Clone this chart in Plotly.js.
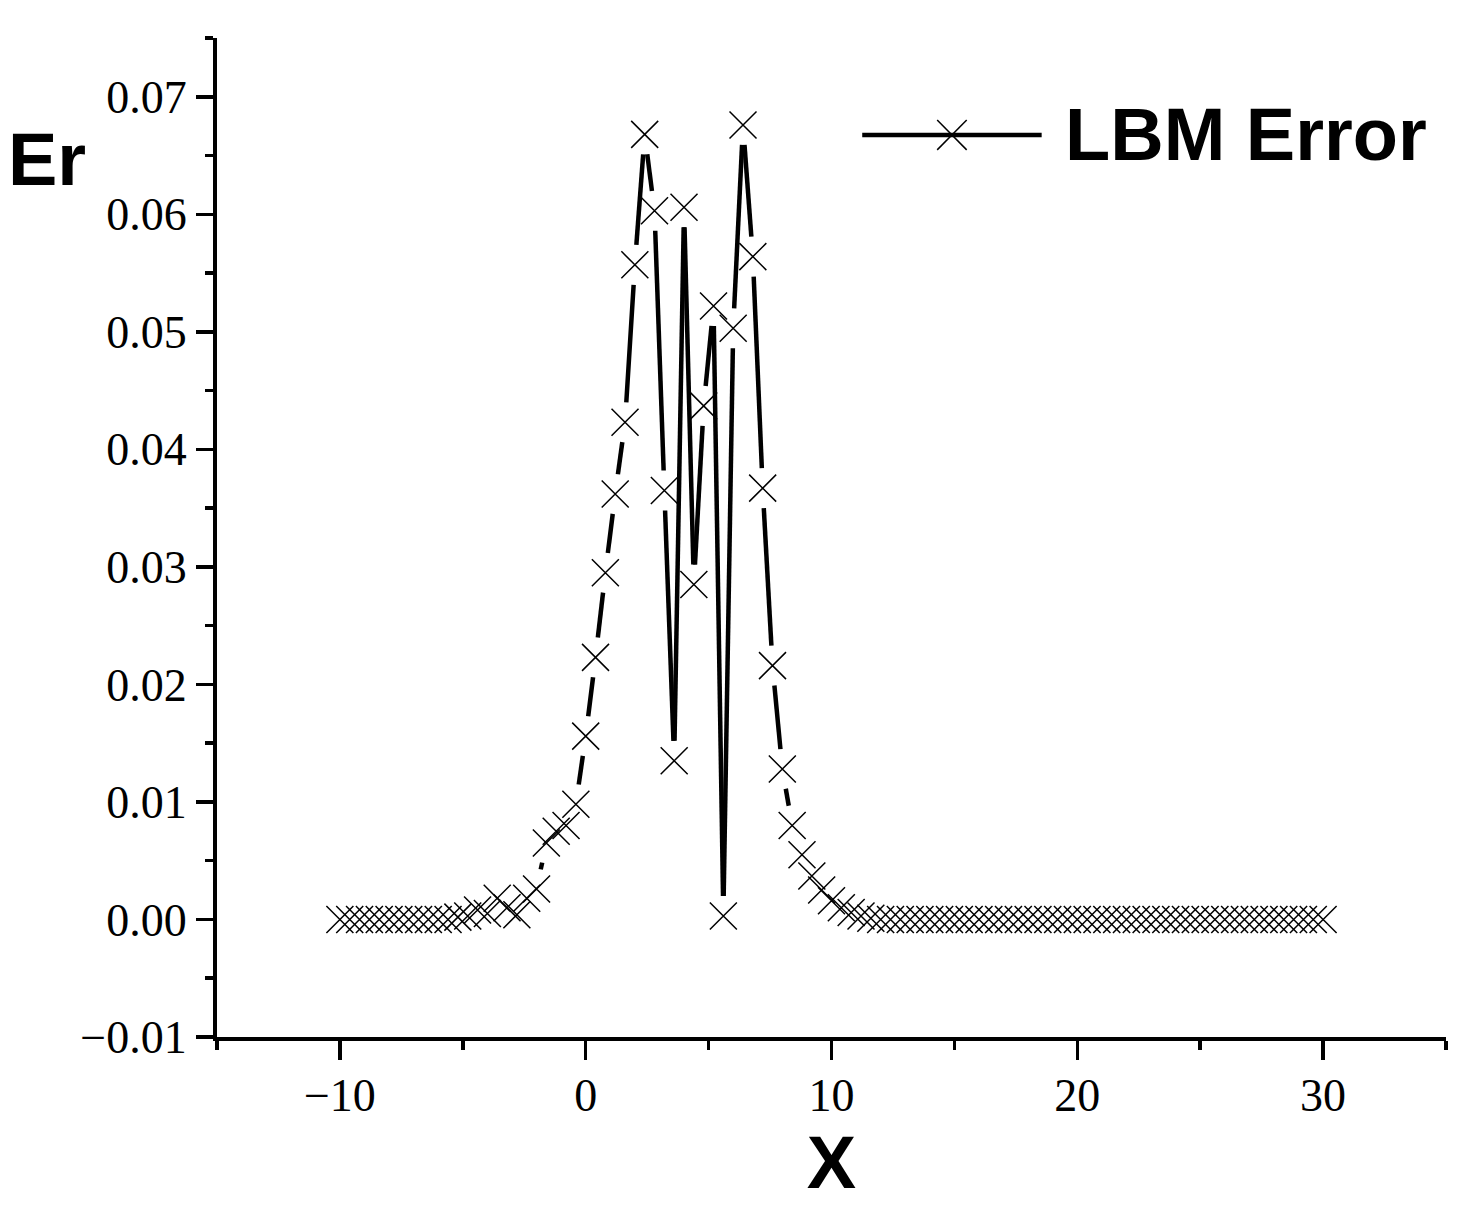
<!DOCTYPE html>
<html>
<head>
<meta charset="utf-8">
<script src="https://cdn.plot.ly/plotly-3.0.1.min.js"></script>
<style>
  body { margin: 0; background: #fff; }
  #plot { width: 1476px; height: 1218px; }
</style>
</head>
<body>
<div id="plot"></div>
<script>
// x positions of the LBM samples
var xPos = [
  -10, -9.6, -9.2, -8.8, -8.4, -8, -7.6, -7.2, -6.8, -6.4,
  -6, -5.6, -5.2, -4.8, -4.4, -4, -3.6, -3.2, -2.8, -2.4,
  -2, -1.6, -1.2, -0.8, -0.4, 0, 0.4, 0.8, 1.2, 1.6,
  2, 2.4, 2.8, 3.2, 3.6, 4, 4.4, 4.8, 5.2, 5.6,
  6, 6.4, 6.8, 7.2, 7.6, 8, 8.4, 8.8, 9.2, 9.6,
  10, 10.4, 10.8, 11.2, 11.6, 12, 12.4, 12.8, 13.2, 13.6,
  14, 14.4, 14.8, 15.2, 15.6, 16, 16.4, 16.8, 17.2, 17.6,
  18, 18.4, 18.8, 19.2, 19.6, 20, 20.4, 20.8, 21.2, 21.6,
  22, 22.4, 22.8, 23.2, 23.6, 24, 24.4, 24.8, 25.2, 25.6,
  26, 26.4, 26.8, 27.2, 27.6, 28, 28.4, 28.8, 29.2, 29.6,
  30
];

// LBM error
var lbmError = [
  0, 0, 0, 0, 0, 0, 0, 0, 0, 0,
  0, 0, 0.0002, 0.0003, 0.0008, 0.0005, 0.0018, 0.0010, 0.0004, 0.0018,
  0.0026, 0.0065, 0.0075, 0.0080, 0.0098, 0.0156, 0.0223, 0.0295, 0.0362, 0.0423,
  0.0557, 0.0668, 0.0603, 0.0365, 0.0135, 0.0606, 0.0285, 0.0437, 0.0522, 0.0003,
  0.0503, 0.0676, 0.0564, 0.0367, 0.0216, 0.0128, 0.0080, 0.0055, 0.0037, 0.0025,
  0.0016, 0.0010, 0.0006, 0.0003, 0.0001, 0, 0, 0, 0, 0,
  0, 0, 0, 0, 0, 0, 0, 0, 0, 0,
  0, 0, 0, 0, 0, 0, 0, 0, 0, 0,
  0, 0, 0, 0, 0, 0, 0, 0, 0, 0,
  0, 0, 0, 0, 0, 0, 0, 0, 0, 0,
  0
];

var xTicks = [-10, 0, 10, 20, 30];
var yTicks = [-0.01, 0, 0.01, 0.02, 0.03, 0.04, 0.05, 0.06, 0.07];
var yTickText = ["\u22120.01", "0.00", "0.01", "0.02", "0.03", "0.04", "0.05", "0.06", "0.07"];

var xRange = [-15, 35];
var yRange = [-0.01, 0.075];

// plot box size in px, used to leave a gap between line and symbol like Origin
var boxW = 1229, boxH = 999, gap = 20;
var pxX = boxW / (xRange[1] - xRange[0]);
var pxY = boxH / (yRange[1] - yRange[0]);

var segX = [], segY = [];
for (var i = 0; i < xPos.length - 1; i++) {
  var dx = (xPos[i + 1] - xPos[i]) * pxX;
  var dy = (lbmError[i + 1] - lbmError[i]) * pxY;
  var L = Math.sqrt(dx * dx + dy * dy);
  if (L <= 2 * gap) continue;
  var t0 = gap / L, t1 = 1 - gap / L;
  segX.push(xPos[i] + (xPos[i + 1] - xPos[i]) * t0, xPos[i] + (xPos[i + 1] - xPos[i]) * t1, null);
  segY.push(lbmError[i] + (lbmError[i + 1] - lbmError[i]) * t0, lbmError[i] + (lbmError[i + 1] - lbmError[i]) * t1, null);
}

var lineTrace = {
  x: segX,
  y: segY,
  mode: "lines",
  type: "scatter",
  name: "LBM Error",
  showlegend: false,
  line: { color: "#000", width: 4.5 },
  connectgaps: false,
  hoverinfo: "skip"
};

var markTrace = {
  x: xPos,
  y: lbmError,
  mode: "markers",
  type: "scatter",
  name: "LBM Error",
  showlegend: false,
  marker: {
    symbol: "x-thin-open",
    size: 27,
    color: "#000",
    line: { color: "#000", width: 1.5 }
  }
};

var serif = "Liberation Serif, Times New Roman, serif";
var sans = "Liberation Sans, Arial, sans-serif";

var layout = {
  width: 1476,
  height: 1218,
  margin: { l: 217, r: 30, t: 38, b: 181 },
  paper_bgcolor: "#fff",
  plot_bgcolor: "#fff",
  showlegend: false,
  xaxis: {
    range: xRange,
    tickvals: xTicks,
    ticktext: xTicks.map(function (v) { return v < 0 ? "\u2212" + Math.abs(v) : String(v); }),
    ticks: "outside",
    ticklen: 19,
    tickwidth: 3.5,
    tickcolor: "#000",
    ticklabelstandoff: -4,
    minor: { tick0: -15, dtick: 10, ticks: "outside", ticklen: 9, tickwidth: 3.5, tickcolor: "#000" },
    showline: true,
    linewidth: 4,
    linecolor: "#000",
    showgrid: false,
    zeroline: false,
    tickfont: { family: serif, size: 46, color: "#000" },
    title: { text: "X", font: { family: sans, size: 74, color: "#000", weight: "bold" }, standoff: 8 },
    automargin: false
  },
  yaxis: {
    range: yRange,
    tickvals: yTicks,
    ticktext: yTickText,
    ticks: "outside",
    ticklen: 17,
    tickwidth: 3.5,
    tickcolor: "#000",
    minor: { tick0: 0.005, dtick: 0.01, ticks: "outside", ticklen: 8, tickwidth: 3.5, tickcolor: "#000" },
    showline: true,
    linewidth: 4,
    linecolor: "#000",
    showgrid: false,
    zeroline: false,
    tickfont: { family: serif, size: 46, color: "#000" },
    automargin: false
  },
  annotations: [
    {
      text: "Er", xref: "paper", yref: "paper", x: -0.138, y: 0.878,
      xanchor: "center", yanchor: "middle", showarrow: false,
      font: { family: sans, size: 74, color: "#000", weight: "bold" }
    },
    {
      text: "LBM Error", xref: "paper", yref: "paper", x: 0.688, y: 0.903,
      xanchor: "left", yanchor: "middle", showarrow: false,
      font: { family: sans, size: 74, color: "#000", weight: "bold" }
    }
  ],
  shapes: [
    // hand-made legend sample: line + cross
    { type: "line", xref: "paper", yref: "paper", x0: 0.525, x1: 0.671, y0: 0.903, y1: 0.903, line: { color: "#000", width: 4.5 } },
    { type: "line", xref: "paper", yref: "paper", x0: 0.586, x1: 0.610, y0: 0.888, y1: 0.918, line: { color: "#000", width: 1.5 } },
    { type: "line", xref: "paper", yref: "paper", x0: 0.586, x1: 0.610, y0: 0.918, y1: 0.888, line: { color: "#000", width: 1.5 } }
  ]
};

Plotly.newPlot("plot", [lineTrace, markTrace], layout, { displayModeBar: false, staticPlot: true });
</script>
</body>
</html>
